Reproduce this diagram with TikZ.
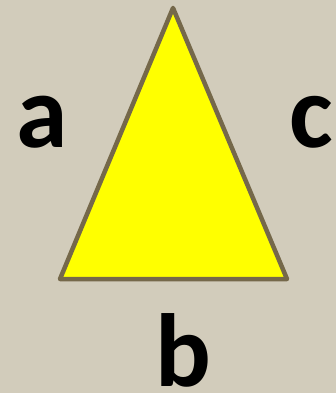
\documentclass[tikz,border=0pt]{standalone}
\usepackage{fontspec}
\setmainfont{Carlito}
\usepackage{tikz}
\usetikzlibrary{positioning}
\definecolor{Sand}{HTML}{D2CCBB}
\definecolor{Olive_Edge}{HTML}{75684A}
\definecolor{Bright_Yellow}{HTML}{FFFF00}
\tikzset{
    side label/.style={font=\fontsize{104}{104}\selectfont\bfseries, text=black, inner sep=0pt, anchor=base}
}
\begin{document}
\begin{tikzpicture}[x=1pt, y=-1pt]
    % Background
    \fill[Sand] (0,0) rectangle (336,393);
    \useasboundingbox (0,0) rectangle (336,393);

    % Triangle corners
    \coordinate (top) at (173,8);
    \coordinate (left) at (60,279);
    \coordinate (right) at (287,279);

    % Triangle
    \draw[line width=4.5pt, Olive_Edge, fill=Bright_Yellow, line join=round]
        (top) -- (left) -- (right) -- cycle;

    % Side names
    \node[side label] (la) at (42,147) {a};
    \node[side label] (lc) at (311,147) {c};
    \node[side label] (lb) at (183,386) {b};
\end{tikzpicture}
\end{document}
